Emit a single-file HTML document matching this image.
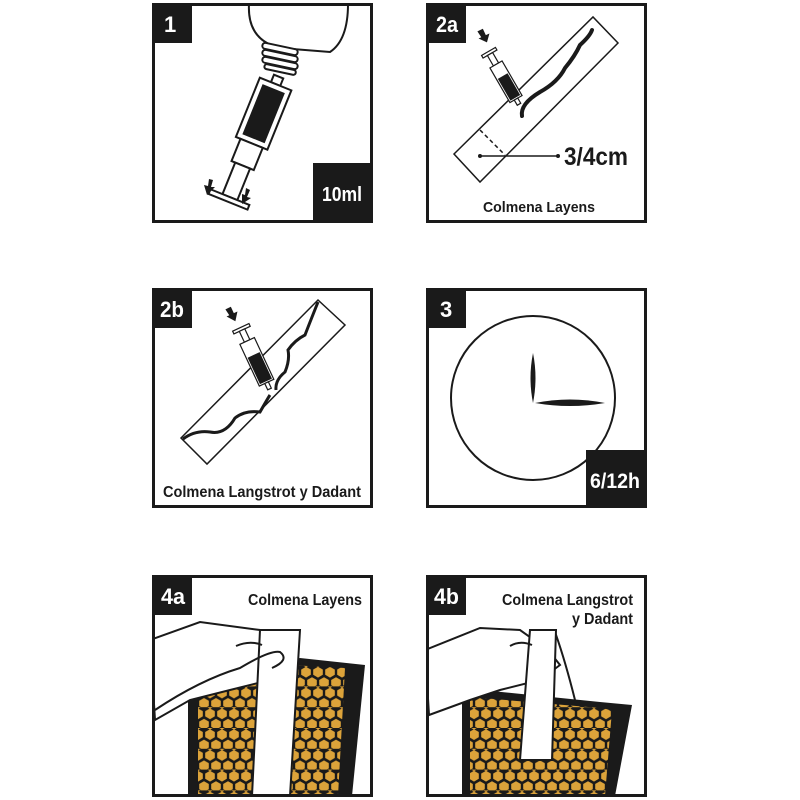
<!DOCTYPE html>
<html><head><meta charset="utf-8"><style>
html,body{margin:0;padding:0;background:#fff;width:800px;height:800px;overflow:hidden}
svg{display:block}
text{font-family:"Liberation Sans",sans-serif;font-weight:bold}
</style></head><body>
<svg width="800" height="800" viewBox="0 0 800 800" xmlns="http://www.w3.org/2000/svg">
<defs>
<pattern id="hex" width="12" height="20.8" patternUnits="userSpaceOnUse">
<rect width="12" height="20.8" fill="#1a1a1a"/>
<polygon points="6,1.2 10.8,4 10.8,9.2 6,12 1.2,9.2 1.2,4" fill="#dca33a"/>
<polygon points="0,11.6 4.8,14.4 4.8,19.6 0,22.4 -4.8,19.6 -4.8,14.4" fill="#dca33a"/>
<polygon points="12,11.6 16.8,14.4 16.8,19.6 12,22.4 7.2,19.6 7.2,14.4" fill="#dca33a"/>
<polygon points="6,-9.2 10.8,-6.4 10.8,-1.2 6,1.6 1.2,-1.2 1.2,-6.4" fill="#dca33a"/>
</pattern>
</defs>
<!-- panel 1 drawing -->
<g stroke="#1a1a1a" stroke-width="2" fill="#fff">
<path d="M249,4 Q247,40 280,48 L330,52 Q348,40 348,4"/>
<rect x="262" y="46" width="36" height="6" rx="3" transform="rotate(12 280 49)"/>
<rect x="262" y="53" width="36" height="6" rx="3" transform="rotate(12 280 56)"/>
<rect x="262" y="60" width="36" height="6" rx="3" transform="rotate(12 280 63)"/>
<rect x="264" y="67" width="32" height="5" rx="2.5" transform="rotate(12 280 70)"/>
<g transform="rotate(22 255 135)">
<rect x="250" y="72" width="10" height="8"/>
<rect x="238" y="80" width="34" height="64"/>
<rect x="243" y="144" width="24" height="24"/>
<rect x="247" y="168" width="16" height="34"/>
<rect x="234" y="202" width="42" height="5"/>
</g>
</g>
<g transform="rotate(22 255 135)"><rect x="243" y="85" width="24" height="54" fill="#1a1a1a"/></g>
<g fill="#1a1a1a">
<polygon points="209,179 213,180 211,187 215,187 207,195 204,185 208,186"/>
<polygon points="246,188 250,190 247,197 251,198 242,204 242,194 245,195"/>
</g>
<!-- frames -->
<g fill="none" stroke="#1a1a1a" stroke-width="3">
<rect x="153.5" y="4.5" width="218" height="217"/>
<rect x="427.5" y="4.5" width="218" height="217"/>
<rect x="153.5" y="289.5" width="218" height="217"/>
<rect x="427.5" y="289.5" width="218" height="217"/>
</g>
<rect x="152" y="3" width="40" height="40" fill="#1a1a1a"/>
<rect x="313" y="163" width="60" height="60" fill="#1a1a1a"/>
<!-- panel 2a -->
<polygon points="454,154 593,17 618,43 480,182" fill="#fff" stroke="#1a1a1a" stroke-width="1.5"/>
<line x1="480" y1="130" x2="505" y2="155" stroke="#1a1a1a" stroke-width="1.5" stroke-dasharray="4,3"/>
<line x1="480" y1="156" x2="558" y2="156" stroke="#1a1a1a" stroke-width="1.5"/>
<circle cx="480" cy="156" r="2" fill="#1a1a1a"/><circle cx="558" cy="156" r="2" fill="#1a1a1a"/>
<path d="M522,116 Q520,104 540,92 Q558,82 565,68 Q575,56 580,45 Q590,36 592,30" fill="none" stroke="#1a1a1a" stroke-width="4" stroke-linecap="round"/>
<g transform="rotate(-30 505 80)" stroke="#1a1a1a" stroke-width="1.2" fill="#fff">
<rect x="497" y="47" width="16" height="3"/>
<rect x="502" y="50" width="6" height="12"/>
<rect x="498" y="62" width="14" height="40"/>
<rect x="500" y="76" width="10" height="24" fill="#1a1a1a"/>
<rect x="503" y="102" width="4" height="6"/>
</g>
<polygon points="480,29 486,29 486,36 490,36 484,43 478,36 481,36" fill="#1a1a1a" transform="rotate(-25 484 36)"/>
<!-- panel 2b -->
<polygon points="181,438 318,300 345,325 207,464" fill="#fff" stroke="#1a1a1a" stroke-width="1.5"/>
<path d="M183,439 Q195,430 210,432 Q225,435 235,418 Q245,410 260,412 Q268,398 270,395" fill="none" stroke="#1a1a1a" stroke-width="3"/>
<path d="M276,390 Q275,380 285,372 Q290,360 288,350 Q295,340 305,335 Q310,322 318,302" fill="none" stroke="#1a1a1a" stroke-width="3"/>
<g transform="rotate(-25 256 360)" stroke="#1a1a1a" stroke-width="1.2" fill="#fff">
<rect x="247" y="324" width="18" height="3"/>
<rect x="253" y="327" width="6" height="12"/>
<rect x="248" y="339" width="16" height="46"/>
<rect x="250" y="355" width="12" height="28" fill="#1a1a1a"/>
<rect x="254" y="385" width="4" height="7"/>
</g>
<polygon points="228,307 234,307 234,314 238,314 232,322 226,314 229,314" fill="#1a1a1a" transform="rotate(-25 232 314)"/>
<!-- panel 3 -->
<circle cx="533" cy="398" r="82" fill="none" stroke="#1a1a1a" stroke-width="2"/>
<path d="M533,353 Q538,378 533,403 Q528,378 533,353Z" fill="#1a1a1a"/>
<path d="M535,403 Q570,396 605,403 Q570,409 535,403Z" fill="#1a1a1a"/>
<rect x="586" y="450" width="60" height="58" fill="#1a1a1a"/>
<!-- panel 4a -->
<clipPath id="c4a"><rect x="155" y="578" width="215" height="216"/></clipPath>
<g clip-path="url(#c4a)">
<polygon points="188,682 300,658 365,665 352,796 188,796" fill="#1a1a1a"/>
<polygon points="198,686 290,665 345,668 338,796 198,796" fill="url(#hex)"/>
<polygon points="150,640 200,622 260,630 280,650 290,668 270,680 230,690 190,700 155,720" fill="#fff" stroke="#1a1a1a" stroke-width="2"/>
<polygon points="260,630 300,630 290,796 252,796" fill="#fff" stroke="#1a1a1a" stroke-width="2"/>
<path d="M155,710 Q200,680 240,668 Q270,650 280,652 Q290,660 272,668" fill="none" stroke="#1a1a1a" stroke-width="2"/>
<path d="M236,646 Q250,640 262,645" fill="none" stroke="#1a1a1a" stroke-width="2"/>
</g>
<!-- panel 4b -->
<clipPath id="c4b"><rect x="429" y="578" width="215" height="216"/></clipPath>
<g clip-path="url(#c4b)">
<polygon points="462,688 600,702 632,705 615,796 462,796" fill="#1a1a1a"/>
<polygon points="470,697 600,708 612,710 605,796 470,796" fill="url(#hex)"/>
<path d="M555,632 Q565,660 575,700" fill="none" stroke="#1a1a1a" stroke-width="2"/>
<polygon points="425,650 480,628 520,630 548,650 560,665 540,680 500,690 470,700 429,715" fill="#fff" stroke="#1a1a1a" stroke-width="2"/>
<polygon points="530,630 556,630 552,760 520,760" fill="#fff" stroke="#1a1a1a" stroke-width="2"/>
<path d="M510,646 Q520,640 532,645" fill="none" stroke="#1a1a1a" stroke-width="2"/>
</g>
<g fill="none" stroke="#1a1a1a" stroke-width="3">
<rect x="153.5" y="576.5" width="218" height="219"/>
<rect x="427.5" y="576.5" width="218" height="219"/>
</g>
<g fill="#1a1a1a">
<rect x="426" y="3" width="40" height="40"/>
<rect x="152" y="288" width="40" height="40"/>
<rect x="426" y="288" width="40" height="40"/>
<rect x="152" y="575" width="40" height="40"/>
<rect x="426" y="575" width="40" height="40"/>
</g>
<g fill="#fff" font-size="22">
<text x="164" y="32">1</text>
<text x="436" y="32" textLength="22" lengthAdjust="spacingAndGlyphs">2a</text>
<text x="160" y="317" textLength="24" lengthAdjust="spacingAndGlyphs">2b</text>
<text x="440" y="317">3</text>
<text x="161" y="604" textLength="24" lengthAdjust="spacingAndGlyphs">4a</text>
<text x="434" y="604" textLength="25" lengthAdjust="spacingAndGlyphs">4b</text>
<text x="322" y="201" font-size="20" textLength="40" lengthAdjust="spacingAndGlyphs">10ml</text>
<text x="590" y="488" font-size="21" textLength="50" lengthAdjust="spacingAndGlyphs">6/12h</text>
</g>
<g fill="#1a1a1a">
<text x="483" y="212" font-size="15" textLength="112" lengthAdjust="spacingAndGlyphs">Colmena Layens</text>
<text x="163" y="497" font-size="16" textLength="198" lengthAdjust="spacingAndGlyphs">Colmena Langstrot y Dadant</text>
<text x="248" y="605" font-size="16" textLength="114" lengthAdjust="spacingAndGlyphs">Colmena Layens</text>
<text x="502" y="605" font-size="16" textLength="131" lengthAdjust="spacingAndGlyphs">Colmena Langstrot</text>
<text x="572" y="624" font-size="16" textLength="61" lengthAdjust="spacingAndGlyphs">y Dadant</text>
<text x="564" y="165" font-size="25" textLength="64" lengthAdjust="spacingAndGlyphs">3/4cm</text>
</g>
</svg>
</body></html>
